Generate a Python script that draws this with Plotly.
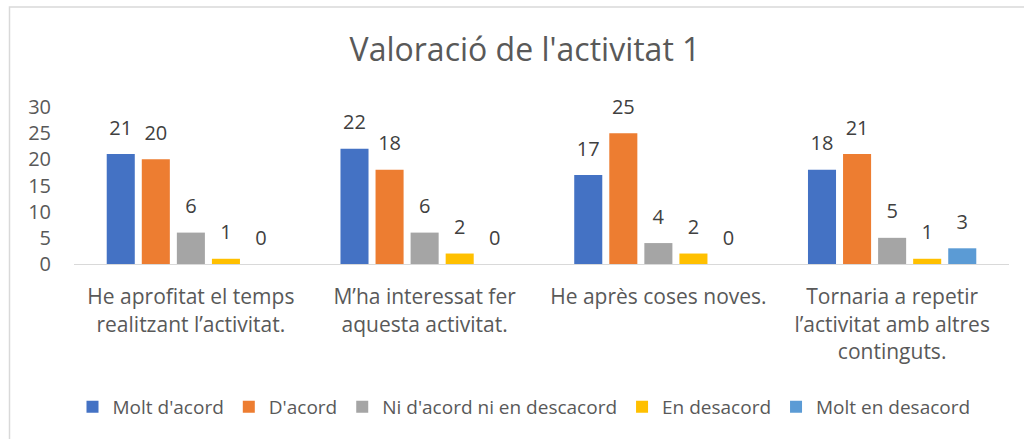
import plotly.graph_objects as go

categories = [
    "He aprofitat el temps<br>realitzant l\u2019activitat.",
    "M\u2019ha interessat fer<br>aquesta activitat.",
    "He apr\u00e8s coses noves.",
    "Tornaria a repetir<br>l\u2019activitat amb altres<br>continguts.",
]
series_names = ["Molt d'acord", "D'acord", "Ni d'acord ni en descacord", "En desacord", "Molt en desacord"]
molt_acord = [21, 22, 17, 18]
acord = [20, 18, 25, 21]
ni_acord = [6, 6, 4, 5]
desacord = [1, 2, 2, 1]
molt_desacord = [0, 0, 0, 3]
series_values = [molt_acord, acord, ni_acord, desacord, molt_desacord]
colors = ["#4472C4", "#ED7D31", "#A5A5A5", "#FFC000", "#5B9BD5"]

FONT = "Open Sans"
label_lift = 2.0  # gap between bar top and data label, in axis units

L, R, T, B = 74, 15, 107, 175
PW = 1024 - L - R
PH = 439 - T - B

fig = go.Figure()
for i, (name, vals, col) in enumerate(zip(series_names, series_values, colors)):
    fig.add_trace(go.Bar(
        x=categories, y=vals, name=name, marker=dict(color=col, line=dict(width=0)),
        offsetgroup=str(i),
    ))
    fig.add_trace(go.Bar(
        x=categories, y=[label_lift] * len(vals), base=vals, offsetgroup=str(i),
        marker=dict(color="rgba(0,0,0,0)", line=dict(width=0)),
        text=[str(v) for v in vals], textposition="outside", constraintext="none",
        textfont=dict(family=FONT, size=20, color="#404040"),
        cliponaxis=False, showlegend=False, hoverinfo="skip",
    ))

fig.update_layout(
    width=1024, height=439,
    margin=dict(l=L, r=R, t=T, b=B),
    paper_bgcolor="white", plot_bgcolor="white",
    barmode="group", bargap=0.25, bargroupgap=0.2,
    title=dict(text="Valoraci\u00f3 de l'activitat 1", x=525 / 1024, xref="container", xanchor="center",
               y=1 - 50 / 439, yref="container", yanchor="middle",
               font=dict(family=FONT, size=32, color="#595959")),
    legend=dict(orientation="h", x=(524 - L) / PW, xanchor="center", y=(264 - 407) / PH, yanchor="middle",
                font=dict(family=FONT, size=19, color="#595959"), itemwidth=30,
                bgcolor="rgba(0,0,0,0)"),
    shapes=[dict(type="rect", xref="paper", yref="paper",
                 x0=(9.5 - L) / PW, x1=(1060 - L) / PW,
                 y0=(264 - 470) / PH, y1=(264 - 7) / PH,
                 line=dict(color="#D9D9D9", width=1.5), fillcolor="rgba(0,0,0,0)", layer="below")],
)
fig.update_xaxes(showline=True, linecolor="#D9D9D9", linewidth=1, showgrid=False, ticks="",
                 tickfont=dict(family=FONT, size=21, color="#595959"), ticklabelstandoff=14)
fig.update_yaxes(range=[0, 30], tickvals=[0, 5, 10, 15, 20, 25, 30], showgrid=False, zeroline=False,
                 showline=False, ticks="", ticklabelstandoff=22,
                 tickfont=dict(family=FONT, size=20, color="#595959"))

fig.write_html("out.html", config={"displayModeBar": False},
               post_script="document.body.style.margin='0px';document.body.style.overflow='hidden';")
